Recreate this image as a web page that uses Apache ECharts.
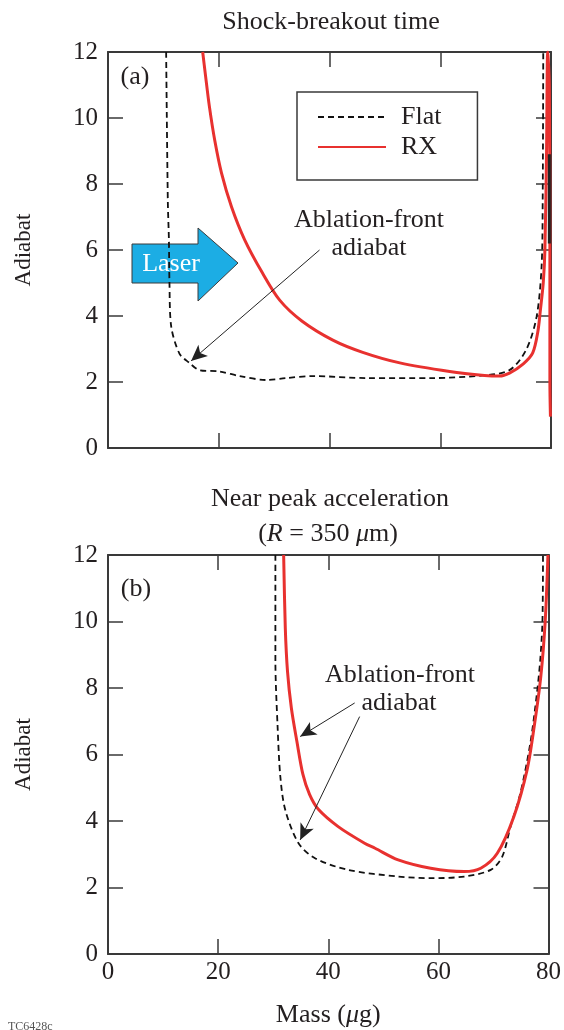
<!DOCTYPE html>
<html>
<head>
<meta charset="utf-8">
<script src="https://cdn.jsdelivr.net/npm/echarts@6/dist/echarts.min.js"></script>
<style>
  html, body { margin: 0; padding: 0; background: #fff; }
  #chart { width: 564px; height: 1030px; }
</style>
</head>
<body>
<div id="chart"></div>
<script>
// 轴刻度
const massTicks = [0, 20, 40, 60, 80];
const adiabatTicks = [0, 2, 4, 6, 8, 10, 12];

// (a) shock-breakout time: [mass, adiabat]
const flatA = [[10.5, 12], [10.8, 7.5], [11.0, 6.3], [11.1, 5.0], [11.4, 3.7], [12.9, 2.86], [14.7, 2.58], [16.5, 2.36],
  [20.1, 2.32], [23.8, 2.18], [28.6, 2.06], [32.2, 2.12], [37, 2.18], [46.7, 2.12], [58.6, 2.12],
  [67.7, 2.2], [72.5, 2.36], [75.5, 2.97], [77.4, 3.98], [78.3, 5.5], [78.5, 7.5], [78.6, 12]];
const rxA = [[17.1, 12], [17.6, 11.3], [18.3, 10.36], [19.3, 9.3], [20.5, 8.33], [22.3, 7.31], [24.7, 6.3],
  [27.9, 5.3], [31.0, 4.48], [35, 3.85], [40.6, 3.27], [46, 2.9], [52.7, 2.58], [61.7, 2.32], [68, 2.2],
  [70.7, 2.18], [72.5, 2.27], [75, 2.55], [76.7, 2.88], [77.6, 3.5], [78.1, 4.2], [78.6, 5], [78.9, 6],
  [79.2, 9], [79.4, 12], [79.7, 11], [79.8, 6], [79.8, 2], [79.9, 0.95]];
const barA = [[79.7, 8.9], [79.7, 6.2]];

// (b) near peak acceleration
const flatB = [[30.4, 12], [30.4, 8.84], [30.8, 6.84], [31.3, 5.33], [32.2, 4.33], [34.6, 3.33], [37.6, 2.88],
  [43.6, 2.53], [52.7, 2.33], [58.6, 2.28], [64.7, 2.33], [69.5, 2.53], [71.6, 2.93], [73.1, 3.83],
  [74.9, 4.84], [76.7, 6.34], [77.9, 7.84], [78.5, 8.84], [78.9, 10], [79.0, 12]];
const rxB = [[31.9, 12], [32.2, 9.8], [32.6, 8.5], [33.3, 7.4], [34.3, 6.4], [35.4, 5.4], [36.6, 4.8], [38.2, 4.35],
  [41.8, 3.83], [46.6, 3.33], [48.5, 3.18], [52.7, 2.83], [58.6, 2.58], [64.7, 2.48], [67.7, 2.58], [70.7, 3.03],
  [73.7, 4.13], [76.1, 5.53], [77.4, 6.84], [78.6, 8.34], [79.4, 10], [79.9, 12]];

// 注释箭头（数据坐标）
const arrowsA = [[[38.2, 6.0], [15.0, 2.64]]];
const arrowsB = [[[44.8, 7.55], [34.9, 6.54]], [[45.7, 7.14], [34.9, 3.43]]];

const FONT = 'Liberation Serif';
const INK = '#231f20';
const RED = '#e8312f';

const chart = echarts.init(document.getElementById('chart'));

function xAx(grid, pos, labels) {
  return {
    type: 'value', gridIndex: grid, position: pos, min: massTicks[0], max: massTicks[massTicks.length - 1],
    interval: 20,
    axisLine: { show: true, onZero: false, lineStyle: { color: '#3a3a3a', width: 2 } },
    axisTick: { show: true, inside: true, length: 15, lineStyle: { color: '#3a3a3a', width: 1.5 } },
    axisLabel: { show: labels, margin: 6, fontFamily: FONT, fontSize: 25, color: INK },
    splitLine: { show: false }
  };
}
function yAx(grid, pos, labels) {
  return {
    type: 'value', gridIndex: grid, position: pos, min: adiabatTicks[0], max: adiabatTicks[adiabatTicks.length - 1],
    interval: 2,
    axisLine: { show: true, onZero: false, lineStyle: { color: '#3a3a3a', width: 2 } },
    axisTick: { show: true, inside: true, length: 15, lineStyle: { color: '#3a3a3a', width: 1.5 } },
    axisLabel: { show: labels, margin: 10, fontFamily: FONT, fontSize: 25, color: INK },
    splitLine: { show: false },
    name: labels ? 'Adiabat' : '', nameLocation: 'middle', nameGap: 73, nameRotate: 90,
    nameTextStyle: { fontFamily: FONT, fontSize: 23, color: INK }
  };
}
function arrowLines(list) {
  return {
    silent: true, symbol: ['none', 'arrow'], symbolSize: [11, 16], animation: false,
    lineStyle: { color: '#222', width: 1, type: 'solid' },
    label: { show: false },
    data: list.map(a => [{ coord: a[0] }, { coord: a[1] }])
  };
}
const flatStyle = { color: '#111', width: 1.8, type: [6, 4] };
const rxStyle = { color: RED, width: 3 };

const xMass = xAx(1, 'bottom', true);
xMass.name = '{n|Mass (}{i|μ}{n|g)}';
xMass.nameLocation = 'middle';
xMass.nameGap = 48;
xMass.nameTextStyle = { rich: { n: { fontFamily: FONT, fontSize: 26, color: INK }, i: { fontFamily: FONT, fontSize: 26, fontStyle: 'italic', color: INK } } };

chart.setOption({
  animation: false,
  grid: [
    { left: 108, top: 52, width: 443, height: 396 },
    { left: 108, top: 555, width: 443, height: 399 }
  ],
  xAxis: [xAx(0, 'bottom', false), xAx(0, 'top', false), xMass, xAx(1, 'top', false)],
  yAxis: [yAx(0, 'left', true), yAx(0, 'right', false), yAx(1, 'left', true), yAx(1, 'right', false)],
  legend: {
    data: ['Flat', 'RX'], orient: 'vertical', left: 297, top: 92,
    itemWidth: 68, itemHeight: 20, itemGap: 4,
    padding: [12, 36, 20, 20],
    borderColor: '#3a3a3a', borderWidth: 1.5,
    selectedMode: false,
    itemStyle: { opacity: 0 },
    textStyle: { fontFamily: FONT, fontSize: 26, color: INK, padding: [0, 0, 0, 10] }
  },
  series: [
    { name: 'Flat', type: 'line', xAxisIndex: 0, yAxisIndex: 0, data: flatA, symbol: 'none',
      smooth: 0.3, lineStyle: flatStyle, itemStyle: { color: '#111' }, markLine: arrowLines(arrowsA) },
    { name: 'RX', type: 'line', xAxisIndex: 0, yAxisIndex: 0, data: rxA, symbol: 'none',
      smooth: 0.3, lineStyle: rxStyle, itemStyle: { color: RED } },
    { name: 'bar', type: 'line', xAxisIndex: 0, yAxisIndex: 0, data: barA, symbol: 'none',
      lineStyle: { color: '#222', width: 3 } },
    { name: 'Flat', type: 'line', xAxisIndex: 2, yAxisIndex: 2, data: flatB, symbol: 'none',
      smooth: 0.3, lineStyle: flatStyle, itemStyle: { color: '#111' }, markLine: arrowLines(arrowsB) },
    { name: 'RX', type: 'line', xAxisIndex: 2, yAxisIndex: 2, data: rxB, symbol: 'none',
      smooth: 0.3, lineStyle: rxStyle, itemStyle: { color: RED } }
  ],
  graphic: [
    { type: 'text', x: 331, y: 22, style: { text: 'Shock-breakout time', font: '26px "Liberation Serif"', fill: INK, align: 'center', verticalAlign: 'middle' } },
    { type: 'text', x: 330, y: 499, style: { text: 'Near peak acceleration', font: '26px "Liberation Serif"', fill: INK, align: 'center', verticalAlign: 'middle' } },
    { type: 'text', x: 328, y: 534, style: {
      text: '{n|(}{i|R}{n| = 350 }{i|μ}{n|m)}', align: 'center', verticalAlign: 'middle',
      rich: { n: { fontFamily: FONT, fontSize: 26, fill: INK }, i: { fontFamily: FONT, fontSize: 26, fontStyle: 'italic', fill: INK } } } },
    { type: 'text', x: 135, y: 77, style: { text: '(a)', font: '26px "Liberation Serif"', fill: INK, align: 'center', verticalAlign: 'middle' } },
    { type: 'text', x: 136, y: 589, style: { text: '(b)', font: '26px "Liberation Serif"', fill: INK, align: 'center', verticalAlign: 'middle' } },
    { type: 'text', x: 369, y: 220, style: { text: 'Ablation-front', font: '26px "Liberation Serif"', fill: INK, align: 'center', verticalAlign: 'middle' } },
    { type: 'text', x: 369, y: 248, style: { text: 'adiabat', font: '26px "Liberation Serif"', fill: INK, align: 'center', verticalAlign: 'middle' } },
    { type: 'text', x: 400, y: 675, style: { text: 'Ablation-front', font: '26px "Liberation Serif"', fill: INK, align: 'center', verticalAlign: 'middle' } },
    { type: 'text', x: 399, y: 703, style: { text: 'adiabat', font: '26px "Liberation Serif"', fill: INK, align: 'center', verticalAlign: 'middle' } },
    { type: 'polygon', shape: { points: [[132, 244], [198, 244], [198, 228], [238, 263], [198, 301], [198, 283], [132, 283]] },
      style: { fill: '#1cade4', stroke: '#3a3a3a', lineWidth: 1 } },
    { type: 'text', x: 171, y: 264, style: { text: 'Laser', font: '26px "Liberation Serif"', fill: '#fff', align: 'center', verticalAlign: 'middle' } },
    { type: 'text', x: 8, y: 1021, style: { text: 'TC6428c', font: '12px "Liberation Serif"', fill: '#555' } }
  ]
});
</script>
</body>
</html>
